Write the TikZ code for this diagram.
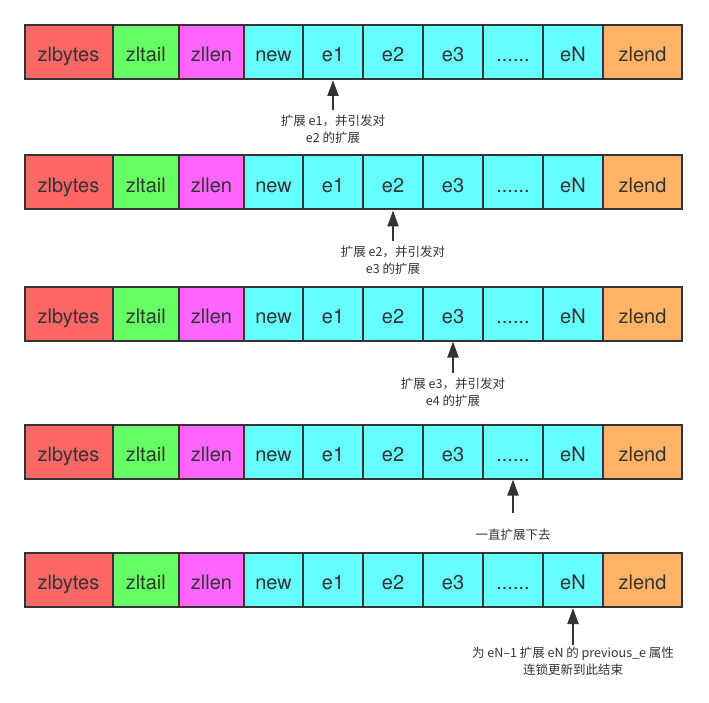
\documentclass[tikz,border=0pt]{standalone}
\usepackage{fontspec}
\setmainfont{TeX Gyre Heros}
\newfontfamily\cjkfont{Noto Sans CJK SC}
\usepackage{xcolor}
\usetikzlibrary{arrows.meta}

\definecolor{zlred}{HTML}{FF6666}
\definecolor{zlgreen}{HTML}{66FF66}
\definecolor{zlpink}{HTML}{FF66FF}
\definecolor{zlcyan}{HTML}{66FFFF}
\definecolor{zlorange}{HTML}{FFB366}
\definecolor{zlink}{HTML}{333333}

\begin{document}
\begin{tikzpicture}[
    x=1pt, y=-1pt,
    cell/.style={draw=zlink, line width=2pt, minimum height=54pt, inner sep=0pt, text height=19.4pt, text depth=0pt, text=zlink, font=\fontsize{20}{22}\selectfont},
    pointer/.style={-{Triangle[length=16pt, width=11pt]}, line width=2pt, draw=zlink},
    note/.style={font=\cjkfont\fontsize{12.5}{16.5}\selectfont, align=center, text=zlink, inner sep=2pt}
]

    % Cadre (marges de l'image)
    \useasboundingbox (0,0) rectangle (709,703);

    % ── Les cinq lignes de la ziplist (une par \'etape de la cascade) ──
    \foreach \r/\y in {1/52, 2/182.5, 3/313.5, 4/451.5, 5/580} {
        \node[cell, fill=zlred,    minimum width=88pt]   (r\r-zlbytes) at (68.5,\y)   {zlbytes};
        \node[cell, fill=zlgreen,  minimum width=66.5pt] (r\r-zltail)  at (145.75,\y) {zltail};
        \node[cell, fill=zlpink,   minimum width=65pt]   (r\r-zllen)   at (211.5,\y)  {zllen};
        \node[cell, fill=zlcyan,   minimum width=59pt]   (r\r-new)     at (273.5,\y)  {new};
        \node[cell, fill=zlcyan,   minimum width=60pt]   (r\r-e1)      at (333,\y)    {e1};
        \node[cell, fill=zlcyan,   minimum width=60pt]   (r\r-e2)      at (393,\y)    {e2};
        \node[cell, fill=zlcyan,   minimum width=60pt]   (r\r-e3)      at (453,\y)    {e3};
        \node[cell, fill=zlcyan,   minimum width=60pt]   (r\r-dots)    at (513,\y)    {......};
        \node[cell, fill=zlcyan,   minimum width=60pt]   (r\r-eN)      at (573,\y)    {eN};
        \node[cell, fill=zlorange, minimum width=79pt]   (r\r-zlend)   at (642.5,\y)  {zlend};
    }

    % ── Notes sous chaque ligne ──
    \node[note, anchor=north] (n1) at (333,113)   {扩展 e1，并引发对\\e2 的扩展};
    \node[note, anchor=north] (n2) at (393,244)   {扩展 e2，并引发对\\e3 的扩展};
    \node[note, anchor=north] (n3) at (453,376)   {扩展 e3，并引发对\\e4 的扩展};
    \node[note, anchor=north] (n4) at (513,527)   {一直扩展下去};
    \node[note, anchor=north] (n5) at (573,645)   {为 eN–1 扩展 eN 的 previous\_e 属性\\连锁更新到此结束};

    % ── Fl\`eches vers l'entr\'ee concern\'ee ──
    \draw[pointer] (n1.north) ++(0,-3) -- (r1-e1.south);
    \draw[pointer] (n2.north) ++(0,-3) -- (r2-e2.south);
    \draw[pointer] (n3.north) ++(0,-3) -- (r3-e3.south);
    \draw[pointer] (n4.north) ++(0,-14) -- (r4-dots.south);
    \draw[pointer] (n5.north) -- (r5-eN.south);

\end{tikzpicture}
\end{document}
